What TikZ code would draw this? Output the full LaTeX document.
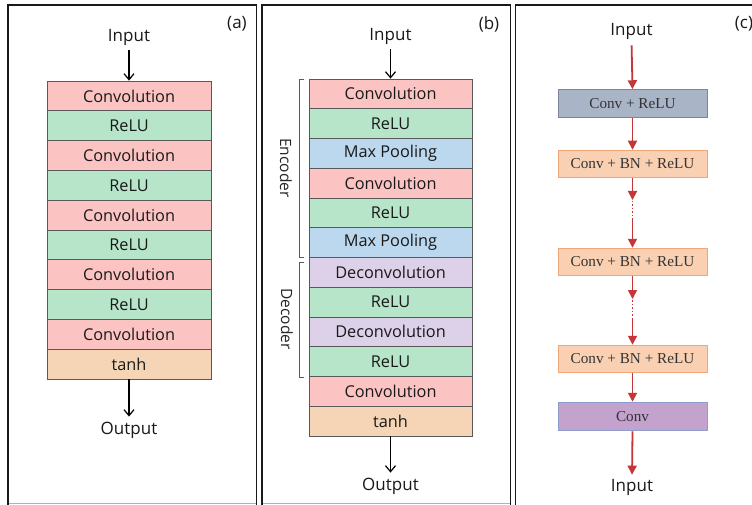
\documentclass[tikz,border=0pt]{standalone}
\usepackage{fontspec}
\setmainfont{Open Sans}
\newfontfamily\serifbox{Liberation Serif}
\usetikzlibrary{arrows.meta}

% layer colours of the two stacked networks
\definecolor{convpink}{HTML}{FCC3C3}
\definecolor{relugreen}{HTML}{B6E5CA}
\definecolor{poolblue}{HTML}{BBD8EE}
\definecolor{deconvlilac}{HTML}{DDD1EA}
\definecolor{tanhpeach}{HTML}{F6D5B7}
\definecolor{layeredge}{HTML}{595959}
% block colours of the residual network
\definecolor{cgrayfill}{HTML}{A9B4C7}
\definecolor{cgrayedge}{HTML}{7A8699}
\definecolor{cpeachfill}{HTML}{FAD0B2}
\definecolor{cpeachedge}{HTML}{EFA77A}
\definecolor{cpurplefill}{HTML}{C4A2CE}
\definecolor{cpurpleedge}{HTML}{8E9DCB}
\definecolor{redflow}{HTML}{C3373B}

\tikzset{
  panel/.style={draw=black!90, line width=1.3pt},
  panelfoot/.style={draw=black!30, line width=1pt},
  layer/.style={draw=layeredge, line width=0.8pt, minimum height=29.8pt,
    inner sep=0pt, font=\fontsize{16.3}{17}\selectfont, text=black!90},
  lbl/.style={font=\fontsize{17}{18}\selectfont, text=black!90, inner sep=1pt},
  flow/.style={draw=black, line width=1.2pt, -{Straight Barb[length=6pt,width=10pt]}},
  bracketline/.style={draw=black!65, line width=0.9pt},
  sidelbl/.style={font=\fontsize{15.5}{16}\selectfont, text=black!85, rotate=-90},
  cbox/.style={minimum width=149pt, minimum height=27.5pt, inner sep=0pt,
    line width=1pt, font=\serifbox\fontsize{15.2}{16}\selectfont, text=black!80},
  redflowarrow/.style={draw=redflow, line width=1.8pt,
    -{Triangle[length=9pt,width=9pt]}},
  reddots/.style={draw=redflow, line width=1.8pt, dash pattern=on 1.5pt off 2pt},
}

\begin{document}
\begin{tikzpicture}[x=1pt,y=-1pt]
\clip (0,0) rectangle (752,505);
\fill[white] (0,0) rectangle (752,505);

% ---------- panel frames ----------
\draw[panelfoot] (8,503.5) -- (256.5,503.5);
\draw[panelfoot] (262,503.5) -- (510.5,503.5);
\draw[panel] (8,505) -- (8,5) -- (256.5,5) -- (256.5,505);
\draw[panel] (262,505) -- (262,5) -- (510.5,5) -- (510.5,505);
\draw[panel] (515.7,505) -- (515.7,5) -- (760,5);

% ---------- panel (a) ----------
\node[lbl] (tagA) at (237,24) {(a)};
\node[lbl] (ain) at (129,37) {Input};
\foreach \t/\c [count=\i] in {Convolution/convpink, ReLU/relugreen,
    Convolution/convpink, ReLU/relugreen, Convolution/convpink, ReLU/relugreen,
    Convolution/convpink, ReLU/relugreen, Convolution/convpink, tanh/tanhpeach}
  \node[layer, fill=\c, minimum width=164pt] (a\i) at (129,{66.1+29.8*\i}) {\t};
\node[lbl] (aout) at (129,430) {Output};
\draw[flow, shorten <=4pt] (ain.south) -- (a1.north);
\draw[flow, shorten >=4pt] (a10.south) -- (aout.north);

% ---------- panel (b) ----------
\node[lbl] (tagB) at (489,24) {(b)};
\node[lbl] (bin) at (390.5,36) {Input};
\foreach \t/\c [count=\i] in {Convolution/convpink, ReLU/relugreen,
    Max Pooling/poolblue, Convolution/convpink, ReLU/relugreen,
    Max Pooling/poolblue, Deconvolution/deconvlilac, ReLU/relugreen,
    Deconvolution/deconvlilac, ReLU/relugreen, Convolution/convpink,
    tanh/tanhpeach}
  \node[layer, fill=\c, minimum width=163pt, minimum height=29.75pt]
    (b\i) at (390.5,{64.125+29.75*\i}) {\t};
\node[lbl] (bout) at (390.5,486) {Output};
\draw[flow, shorten <=4pt] (bin.south) -- (b1.north);
\draw[flow, shorten >=4pt] (b12.south) -- (bout.north);

% encoder / decoder brackets
\draw[bracketline] (304,79.5) -- (299.5,79.5) -- (299.5,257) -- (304,257);
\draw[bracketline] (304,262) -- (299.5,262) -- (299.5,377) -- (304,377);
\node[sidelbl] (enc) at (286,168) {Encoder};
\node[sidelbl] (dec) at (287,319) {Decoder};

% ---------- panel (c) ----------
\node[lbl] (tagC) at (744,24) {(c)};
\node[lbl] (cin) at (631.5,31) {Input};
\node[cbox, draw=cgrayedge, fill=cgrayfill] (c1) at (632.5,103.5) {Conv + ReLU};
\node[cbox, draw=cpeachedge, fill=cpeachfill] (c2) at (632.5,164) {Conv + BN + ReLU};
\node[cbox, draw=cpeachedge, fill=cpeachfill] (c3) at (632.5,262) {Conv + BN + ReLU};
\node[cbox, draw=cpeachedge, fill=cpeachfill] (c4) at (632.5,359) {Conv + BN + ReLU};
\node[cbox, draw=cpurpleedge, fill=cpurplefill, minimum height=28.5pt] (c5) at (632.5,416.5) {Conv};
\node[lbl] (cout) at (632,487) {Input};

\coordinate (g1a) at (632.5,200);
\coordinate (g1b) at (632.5,220);
\coordinate (g2a) at (632.5,299);
\coordinate (g2b) at (632.5,318);

\draw[redflowarrow, shorten <=5pt] (cin.south) -- (c1.north);
\draw[redflowarrow] (c1.south) -- (c2.north);
\draw[redflowarrow] (c2.south) -- (g1a);
\draw[reddots] ([yshift=2.5pt]g1a) -- (g1b);
\draw[redflowarrow] (g1b) -- (c3.north);
\draw[redflowarrow] (c3.south) -- (g2a);
\draw[reddots] ([yshift=2.5pt]g2a) -- (g2b);
\draw[redflowarrow] (g2b) -- (c4.north);
\draw[redflowarrow] (c4.south) -- (c5.north);
\draw[redflowarrow, shorten >=3pt] (c5.south) -- (cout.north);
\end{tikzpicture}
\end{document}
